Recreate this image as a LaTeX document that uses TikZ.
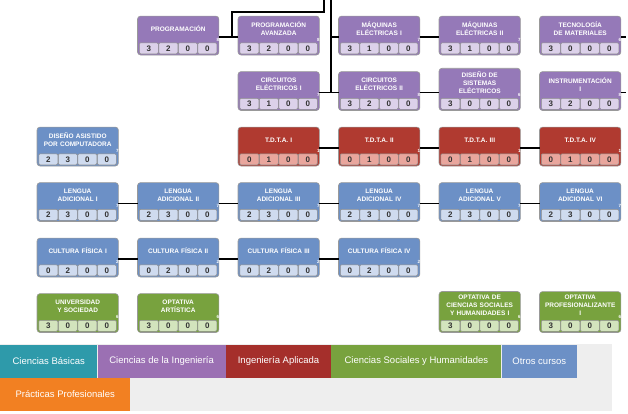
\documentclass[tikz,border=0pt]{standalone}
\usepackage{fontspec}
\setmainfont{Liberation Sans}
\usetikzlibrary{backgrounds}

\definecolor{ing}{HTML}{9579B8}
\definecolor{ingL}{HTML}{DCD1EA}
\definecolor{apl}{HTML}{B03A30}
\definecolor{aplL}{HTML}{E9A69D}
\definecolor{otr}{HTML}{6C90C6}
\definecolor{otrL}{HTML}{CFDBEF}
\definecolor{soc}{HTML}{78A23E}
\definecolor{socL}{HTML}{D3E4BD}
\definecolor{bas}{HTML}{2E9AAA}
\definecolor{pra}{HTML}{F28022}
\definecolor{leying}{HTML}{9B70B3}
\definecolor{leyapl}{HTML}{A52F2B}
\definecolor{fondo}{HTML}{EEEEEE}

\newcommand{\materia}[6]{%
	\node[cabeza] (#1) at (#2) {#4};
	\begin{scope}[on background layer]
		\draw[marco, fill=#3] (#1.north west) rectangle ([yshift=-13pt]#1.south east);
	\end{scope}
	\foreach \h [count=\i] in {#5}
		\node[celda, fill=#3L] (#1-\i) at ([xshift={1.5pt+(\i-1)*19.5pt}, yshift=-0.5pt]#1.south west) {\h};
	\node[credito] (#1-c) at ([xshift=1pt]#1.south east) {#6};
}

\begin{document}
\begin{tikzpicture}[x=1pt, y=-1pt,
	cabeza/.style={anchor=south west, minimum width=81pt, minimum height=25.5pt, text width=77pt, inner xsep=2pt, inner ysep=3.5pt, align=center, text=white, font=\fontsize{6.5}{8}\selectfont\bfseries},
	marco/.style={draw=black!40, line width=0.6pt, rounded corners=3pt},
	celda/.style={anchor=north west, minimum width=19pt, minimum height=11pt, inner sep=0pt, draw=black!45, line width=0.5pt, rounded corners=1.2pt, text=black!80, font=\fontsize{8}{8}\selectfont\bfseries},
	credito/.style={anchor=south east, inner sep=0.5pt, text=white, font=\fontsize{4.5}{4.5}\selectfont\bfseries},
	enlace/.style={line width=1.6pt, black},
	leyenda/.style={anchor=north west, minimum height=32.5pt, inner sep=0pt, text=white, font=\fontsize{9.5}{10}\selectfont}]
	\useasboundingbox (0,0) rectangle (628,413);

	\materia{prog}{137.5,42}{ing}{PROGRAMACIÓN}{3,2,0,0}{8}
	\materia{progav}{238,42}{ing}{PROGRAMACIÓN\\AVANZADA}{3,2,0,0}{8}
	\materia{maqa}{338.5,42}{ing}{MÁQUINAS\\ELÉCTRICAS I}{3,1,0,0}{7}
	\materia{maqb}{439,42}{ing}{MÁQUINAS\\ELÉCTRICAS II}{3,1,0,0}{7}
	\materia{tec}{539.5,42}{ing}{TECNOLOGÍA\\DE MATERIALES}{3,0,0,0}{6}

	\materia{circa}{238,97.5}{ing}{CIRCUITOS\\ELÉCTRICOS I}{3,1,0,0}{7}
	\materia{circb}{338.5,97.5}{ing}{CIRCUITOS\\ELÉCTRICOS II}{3,2,0,0}{8}
	\materia{dise}{439,97.5}{ing}{DISEÑO DE\\SISTEMAS\\ELÉCTRICOS}{3,0,0,0}{6}
	\materia{instr}{539.5,97.5}{ing}{INSTRUMENTACIÓN\\I}{3,2,0,0}{8}

	\materia{dac}{37,153}{otr}{DISEÑO ASISTIDO\\POR COMPUTADORA}{2,3,0,0}{7}
	\materia{tdta}{238,153}{apl}{T.D.T.A. I}{0,1,0,0}{1}
	\materia{tdtb}{338.5,153}{apl}{T.D.T.A. II}{0,1,0,0}{1}
	\materia{tdtc}{439,153}{apl}{T.D.T.A. III}{0,1,0,0}{1}
	\materia{tdtd}{539.5,153}{apl}{T.D.T.A. IV}{0,1,0,0}{1}

	\materia{lena}{37,208.5}{otr}{LENGUA\\ADICIONAL I}{2,3,0,0}{7}
	\materia{lenb}{137.5,208.5}{otr}{LENGUA\\ADICIONAL II}{2,3,0,0}{7}
	\materia{lenc}{238,208.5}{otr}{LENGUA\\ADICIONAL III}{2,3,0,0}{7}
	\materia{lend}{338.5,208.5}{otr}{LENGUA\\ADICIONAL IV}{2,3,0,0}{7}
	\materia{lene}{439,208.5}{otr}{LENGUA\\ADICIONAL V}{2,3,0,0}{7}
	\materia{lenf}{539.5,208.5}{otr}{LENGUA\\ADICIONAL VI}{2,3,0,0}{7}

	\materia{cula}{37,264}{otr}{CULTURA FÍSICA I}{0,2,0,0}{2}
	\materia{culb}{137.5,264}{otr}{CULTURA FÍSICA II}{0,2,0,0}{2}
	\materia{culc}{238,264}{otr}{CULTURA FÍSICA III}{0,2,0,0}{2}
	\materia{culd}{338.5,264}{otr}{CULTURA FÍSICA IV}{0,2,0,0}{2}

	\materia{univ}{37,319.5}{soc}{UNIVERSIDAD\\Y SOCIEDAD}{3,0,0,0}{6}
	\materia{opart}{137.5,319.5}{soc}{OPTATIVA\\ARTÍSTICA}{3,0,0,0}{6}
	\materia{opsoc}{439,319.5}{soc}{OPTATIVA DE\\CIENCIAS SOCIALES\\Y HUMANIDADES I}{3,0,0,0}{6}
	\materia{oppro}{539.5,319.5}{soc}{OPTATIVA\\PROFESIONALIZANTE\\I}{3,0,0,0}{6}

	\foreach \a/\b in {prog/progav, maqa/maqb, circa/circb, circb/dise, tdta/tdtb, tdtb/tdtc, tdtc/tdtd, lena/lenb, lenb/lenc, lenc/lend, lend/lene, lene/lenf, cula/culb, culb/culc, culc/culd}
		\draw[enlace] ([yshift=5pt]\a.south east) -- ([yshift=5pt]\b.south west);

	\coordinate[](arribaA) at (324,0);
	\coordinate[](codoA) at (232,12);
	\coordinate[](pA) at ([yshift=5pt]prog.south east);
	\draw[enlace] (arribaA) |- (codoA) -- (codoA |- pA);

	\coordinate[](arribaB) at (331,0);
	\coordinate[](pB) at ([yshift=5pt]circa.south east);
	\coordinate[](pM) at ([yshift=5pt]maqa.south west);
	\draw[enlace] (arribaB) -- (arribaB |- pB);
	\draw[enlace] (arribaB |- pM) -- (pM);

	\coordinate[](salT) at (626,37);
	\coordinate[](salI) at (626,92.5);
	\draw[enlace] ([yshift=5pt]tec.south east) -- (salT);
	\draw[enlace] ([yshift=5pt]instr.south east) -- (salI);

	\fill[fondo] (0,344) rectangle (612,411);
	\node[leyenda, fill=bas, minimum width=97pt] (lbas) at (0,345) {Ciencias Básicas};
	\node[leyenda, fill=leying, minimum width=128pt] (ling) at (lbas.north east) {Ciencias de la Ingeniería};
	\node[leyenda, fill=leyapl, minimum width=105pt] (lapl) at (ling.north east) {Ingeniería Aplicada};
	\node[leyenda, fill=soc, minimum width=170pt] (lsoc) at (lapl.north east) {Ciencias Sociales y Humanidades};
	\node[leyenda, fill=otr, minimum width=75pt] (lotr) at (lsoc.north east) {Otros cursos};
	\node[leyenda, fill=pra, minimum width=130pt] (lpra) at (lbas.south west) {Prácticas Profesionales};
\end{tikzpicture}
\end{document}
